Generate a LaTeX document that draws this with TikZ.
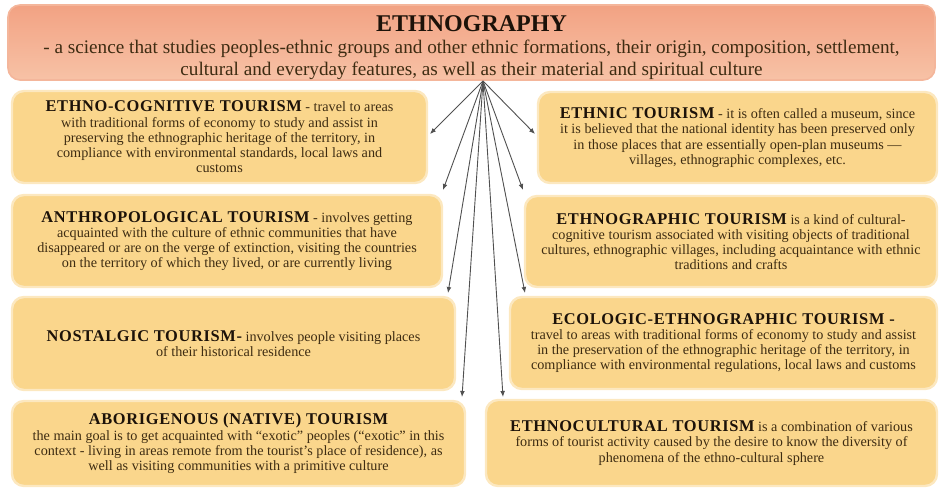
\documentclass[tikz,border=0pt]{standalone}
\usepackage{fontspec}
\setmainfont{Liberation Serif}
\newfontfamily\hdfont[LetterSpace=4]{Liberation Serif}
\usetikzlibrary{arrows.meta,positioning}

\definecolor{cardfill}{HTML}{FAD68C}
\definecolor{cardedge}{HTML}{FCE8C0}
\definecolor{headtop}{HTML}{F2A283}
\definecolor{headbot}{HTML}{F7C2A6}
\definecolor{headedge}{HTML}{F4B69B}
\definecolor{inktext}{HTML}{3E2C12}
\definecolor{inkhead}{HTML}{1C1209}
\definecolor{wire}{HTML}{505050}

\newcommand{\hd}[1]{{\hdfont\fontsize{8.2}{8.8}\selectfont\bfseries\color{inkhead}#1}}

\begin{document}
\begin{tikzpicture}[
  x=0.5pt, y=-0.5pt,
  card/.style={draw=cardedge, line width=1.2pt, fill=cardfill, rounded corners=6pt,
               align=center, inner sep=1pt, text=inktext,
               font=\fontsize{7.1}{7.6}\selectfont},
  banner/.style={draw=headedge, line width=0.8pt, top color=headtop, bottom color=headbot,
                 rounded corners=6pt, align=center, inner sep=0pt, text=inktext,
                 font=\fontsize{9.6}{10.8}\selectfont},
  link/.style={-{Latex[length=3pt,width=2.4pt]}, wire, line width=0.45pt},
]
\useasboundingbox (0,0) rectangle (943,488);

% header
\node[banner, minimum width=463.5pt, minimum height=37.5pt] (ethno) at (471.5,42.5)
  {\rule{0pt}{13pt}{\fontsize{12}{13}\selectfont\bfseries\color{inkhead}ETHNOGRAPHY}\\
   - a science that studies peoples-ethnic groups and other ethnic formations, their origin, composition, settlement,\\
   cultural and everyday features, as well as their material and spiritual culture};

% left column
\node[card, minimum width=207.5pt, minimum height=46pt] (cog) at (219.5,137)
  {\hd{ETHNO-COGNITIVE TOURISM} - travel to areas\\
   with traditional forms of economy to study and assist in\\
   preserving the ethnographic heritage of the territory, in\\
   compliance with environmental standards, local laws and\\
   customs};
\node[card, minimum width=215pt, minimum height=46pt] (anth) at (227,241)
  {\hd{ANTHROPOLOGICAL TOURISM} - involves getting\\
   acquainted with the culture of ethnic communities that have\\
   disappeared or are on the verge of extinction, visiting the countries\\
   on the territory of which they lived, or are currently living};
\node[card, minimum width=221.5pt, minimum height=46.5pt] (nost) at (233.5,343.5)
  {\hd{NOSTALGIC TOURISM-} involves people visiting places\\
   of their historical residence};
\node[card, minimum width=226.5pt, minimum height=42.5pt] (abor) at (238.5,443.5)
  {\hd{ABORIGENOUS (NATIVE) TOURISM}\\
   the main goal is to get acquainted with ``exotic'' peoples (``exotic'' in this\\
   context - living in areas remote from the tourist's place of residence), as\\
   well as visiting communities with a primitive culture};

% right column
\node[card, minimum width=199.5pt, minimum height=45.5pt] (ethnic) at (737.5,137.5)
  {\hd{ETHNIC TOURISM} - it is often called a museum, since\\
   it is believed that the national identity has been preserved only\\
   in those places that are essentially open-plan museums ---\\
   villages, ethnographic complexes, etc.};
\node[card, minimum width=206pt, minimum height=45.5pt] (graph) at (731,241.5)
  {\hd{ETHNOGRAPHIC TOURISM} is a kind of cultural-\\
   cognitive tourism associated with visiting objects of traditional\\
   cultures, ethnographic villages, including acquaintance with ethnic\\
   traditions and crafts};
\node[card, minimum width=213.5pt, minimum height=46pt] (eco) at (723.5,343)
  {\hd{ECOLOGIC-ETHNOGRAPHIC TOURISM -}\\
   travel to areas with traditional forms of economy to study and assist\\
   in the preservation of the ethnographic heritage of the territory, in\\
   compliance with environmental regulations, local laws and customs};
\node[card, minimum width=225.5pt, minimum height=43pt] (cult) at (711.5,443)
  {\hd{ETHNOCULTURAL TOURISM} is a combination of various\\
   forms of tourist activity caused by the desire to know the diversity of\\
   phenomena of the ethno-cultural sphere};

% fan of links
\coordinate (hub) at (483,81);
\coordinate (cog-in) at (430,134);
\coordinate (anth-in) at (443,190);
\coordinate (nost-in) at (448,293);
\coordinate (abor-in) at (462,397);
\coordinate (ethnic-in) at (535,134);
\coordinate (graph-in) at (523,190);
\coordinate (eco-in) at (525,293);
\coordinate (cult-in) at (503,397);

\draw[link] (hub) -- (cog-in);
\draw[link] (hub) -- (anth-in);
\draw[link] (hub) -- (nost-in);
\draw[link] (hub) -- (abor-in);
\draw[link] (hub) -- (ethnic-in);
\draw[link] (hub) -- (graph-in);
\draw[link] (hub) -- (eco-in);
\draw[link] (hub) -- (cult-in);
\end{tikzpicture}
\end{document}
